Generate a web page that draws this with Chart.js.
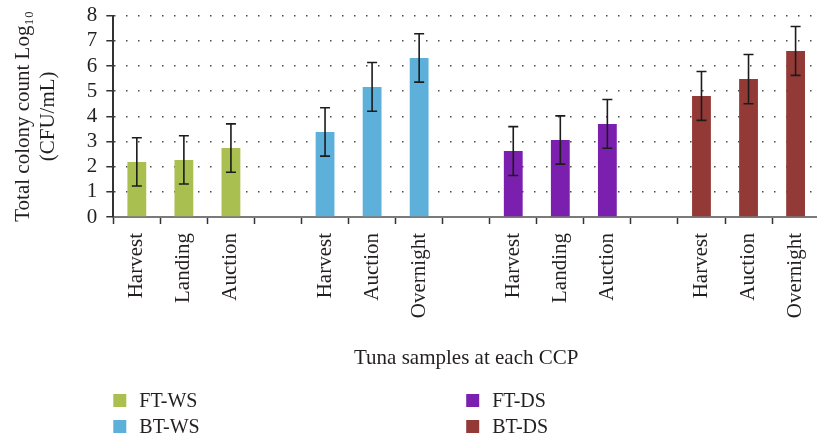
<!DOCTYPE html>
<html>
<head>
<meta charset="utf-8">
<script src="https://cdn.jsdelivr.net/npm/chart.js@4.4.1/dist/chart.umd.min.js"></script>
<style>
  html, body { margin: 0; padding: 0; background: #fff; overflow: hidden; width: 817px; height: 441px; }
  canvas { display: block; }
</style>
</head>
<body>
<canvas id="chart" width="830" height="441"></canvas>
<script>
// Sampling points along the x axis (empty slots separate the four groups)
const categories = [
  'Harvest', 'Landing', 'Auction', '',
  'Harvest', 'Auction', 'Overnight', '',
  'Harvest', 'Landing', 'Auction', '',
  'Harvest', 'Auction', 'Overnight'
];

// Mean total colony count (log10 CFU/mL) and standard deviation per group
const ftWsMeans  = [2.19, 2.27, 2.74];
const ftWsErrors = [0.96, 0.96, 0.96];
const btWsMeans  = [3.38, 5.17, 6.32];
const btWsErrors = [0.96, 0.97, 0.96];
const ftDsMeans  = [2.62, 3.06, 3.70];
const ftDsErrors = [0.97, 0.96, 0.97];
const btDsMeans  = [4.81, 5.48, 6.60];
const btDsErrors = [0.97, 0.98, 0.97];

const seriesNames  = ['FT-WS', 'BT-WS', 'FT-DS', 'BT-DS'];
const seriesColors = ['#a9bf4f', '#5cb0d9', '#7b1fae', '#933a37'];
const seriesStart  = [0, 4, 8, 12];
const seriesMeans  = [ftWsMeans, btWsMeans, ftDsMeans, btDsMeans];
const seriesErrors = [ftWsErrors, btWsErrors, ftDsErrors, btDsErrors];

const yTickValues = [0, 1, 2, 3, 4, 5, 6, 7, 8];

const FONT = "'Liberation Serif', 'DejaVu Serif', serif";
const TEXT = '#231f20';

// Spread each group's values over its slots on the shared category axis
function slotted(values, start) {
  const out = categories.map(() => null);
  values.forEach((v, i) => { out[start + i] = v; });
  return out;
}

const datasets = seriesNames.map((name, i) => ({
  label: name,
  data: slotted(seriesMeans[i], seriesStart[i]),
  errors: slotted(seriesErrors[i], seriesStart[i]),
  backgroundColor: seriesColors[i],
  borderWidth: 0,
  grouped: false,
  categoryPercentage: 1,
  barPercentage: 0.4
}));

// Whiskers with caps at mean ± SD
const errorBars = {
  id: 'errorBars',
  afterDatasetsDraw(chart) {
    const { ctx } = chart;
    const y = chart.scales.y;
    ctx.save();
    ctx.strokeStyle = '#1c1c1c';
    ctx.lineWidth = 1.6;
    chart.data.datasets.forEach((ds, i) => {
      const meta = chart.getDatasetMeta(i);
      meta.data.forEach((bar, j) => {
        const v = ds.data[j];
        if (v == null) return;
        const e = ds.errors[j];
        const yTop = y.getPixelForValue(v + e);
        const yBot = y.getPixelForValue(v - e);
        const x = bar.x;
        const cap = 5;
        ctx.beginPath();
        ctx.moveTo(x, yTop); ctx.lineTo(x, yBot);
        ctx.moveTo(x - cap, yTop); ctx.lineTo(x + cap, yTop);
        ctx.moveTo(x - cap, yBot); ctx.lineTo(x + cap, yBot);
        ctx.stroke();
      });
    });
    ctx.restore();
  }
};

// Two-column legend under the axis title
const columnLegend = {
  id: 'columnLegend',
  afterDraw(chart) {
    const { ctx, chartArea } = chart;
    const colWidth = (chartArea.right - chartArea.left) / 2;
    ctx.save();
    ctx.font = '20px ' + FONT;
    ctx.textBaseline = 'middle';
    ctx.textAlign = 'left';
    chart.data.datasets.forEach((ds, i) => {
      const col = Math.floor(i / 2);
      const row = i % 2;
      const x = chartArea.left + col * colWidth;
      const cy = 400.5 + row * 26;
      ctx.fillStyle = ds.backgroundColor;
      ctx.fillRect(x, cy - 6.5, 13, 13);
      ctx.fillStyle = TEXT;
      ctx.fillText(ds.label, x + 26, cy + 1);
    });
    ctx.restore();
  }
};

new Chart(document.getElementById('chart'), {
  type: 'bar',
  data: { labels: categories, datasets },
  plugins: [errorBars, columnLegend],
  options: {
    responsive: false,
    animation: false,
    devicePixelRatio: 1,
    layout: { padding: { left: 0, right: 6.5, top: 15.7, bottom: 60 } },
    plugins: {
      legend: { display: false },
      tooltip: { enabled: false }
    },
    scales: {
      x: {
        offset: true,
        grid: {
          offset: true,
          drawOnChartArea: false,
          tickLength: 7,
          tickColor: '#333',
          tickWidth: 1.5
        },
        border: { color: '#7a7a7a', width: 2 },
        ticks: {
          autoSkip: false,
          maxRotation: 90,
          minRotation: 90,
          padding: 9,
          color: TEXT,
          font: { family: FONT, size: 21 }
        },
        title: {
          display: true,
          text: 'Tuna samples at each CCP',
          color: TEXT,
          font: { family: FONT, size: 21 },
          padding: { top: 0, bottom: 10.4 }
        },
        afterFit(scale) {
          scale.height = 164;
          scale.paddingTop = 0;
        }
      },
      y: {
        min: 0,
        max: 8,
        afterBuildTicks(scale) { scale.ticks = yTickValues.map(v => ({ value: v })); },
        grid: {
          color: '#4a4a4a',
          lineWidth: 1.5,
          tickBorderDash: [],
          tickLength: 7,
          tickColor: '#333',
          tickWidth: 1.5
        },
        border: { color: '#333', width: 2, dash: [1.5, 10.5] },
        ticks: {
          autoSkip: false,
          stepSize: 1,
          padding: 9,
          color: TEXT,
          font: { family: FONT, size: 21 }
        },
        title: {
          display: true,
          text: ['Total colony count Log\u2081\u2080', '(CFU/mL)'],
          color: TEXT,
          font: { family: FONT, size: 21 },
          padding: { top: 11, bottom: 0 }
        },
        afterFit(scale) {
          scale.width = 113.3;
          scale.paddingTop = 0;
          scale.paddingBottom = 0;
        }
      }
    }
  }
});
</script>
</body>
</html>
